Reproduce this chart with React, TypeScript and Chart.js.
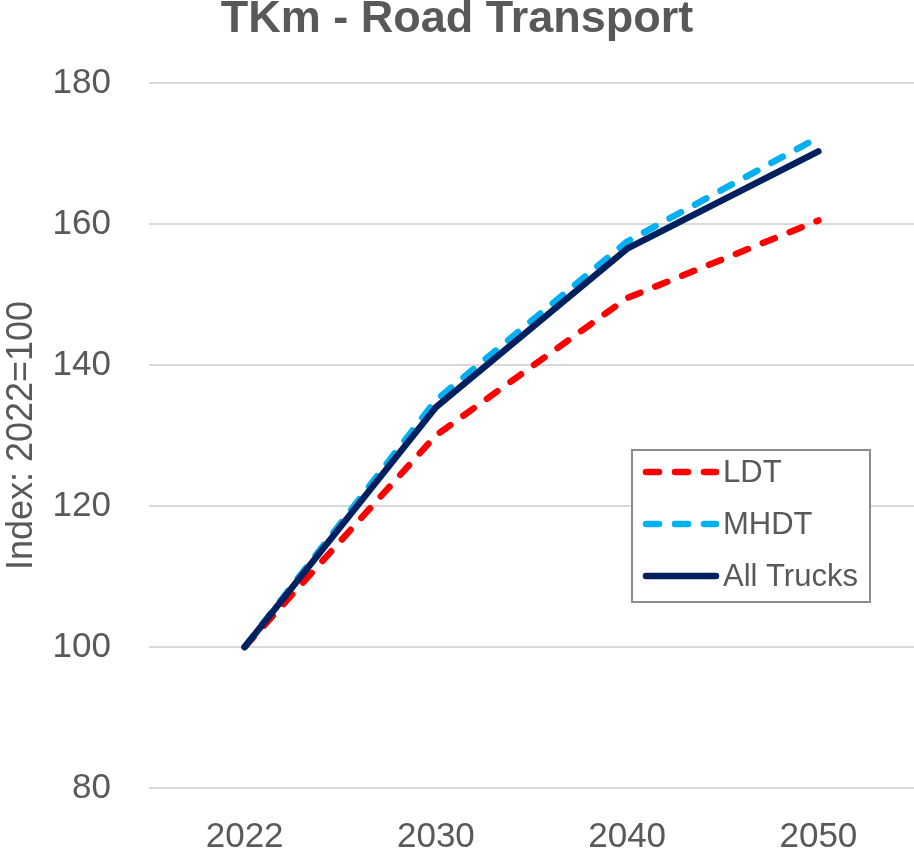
import React, { useEffect, useRef } from "react";
import { Chart, registerables } from "chart.js";

Chart.register(...registerables);

const TITLE = "TKm - Road Transport";
const Y_TITLE = "Index: 2022=100";
const YEARS = ["2022", "2030", "2040", "2050"];
const LDT = [100, 130, 149.5, 160.5];
const MHDT = [100, 135, 157.5, 172.3];
const ALL_TRUCKS = [100, 134, 156.5, 170.3];
const Y_MIN = 80;
const Y_MAX = 180;
const Y_STEP = 20;

const FONT = "'Liberation Sans', Arial, sans-serif";
const TEXT = "#595959";

const titlePlugin = {
  id: "topTitle",
  afterDraw(chart: any) {
    const ctx = chart.ctx;
    ctx.save();
    ctx.font = `bold 45px ${FONT}`;
    ctx.fillStyle = TEXT;
    ctx.textAlign = "center";
    ctx.textBaseline = "alphabetic";
    ctx.fillText(TITLE, chart.width / 2, 32);
    ctx.restore();
  },
};

const legendPlugin = {
  id: "boxLegend",
  afterDraw(chart: any) {
    const ctx = chart.ctx;
    const x = 632, y = 450, w = 238, h = 152;
    ctx.save();
    ctx.fillStyle = "#ffffff";
    ctx.fillRect(x, y, w, h);
    ctx.strokeStyle = "#8c8c8c";
    ctx.lineWidth = 2;
    ctx.strokeRect(x, y, w, h);
    chart.data.datasets.forEach((ds: any, k: number) => {
      const cy = y + 22 + k * 52;
      ctx.beginPath();
      ctx.strokeStyle = ds.borderColor;
      ctx.lineWidth = ds.borderWidth;
      ctx.lineCap = "round";
      ctx.setLineDash(ds.borderDash || []);
      ctx.moveTo(646, cy);
      ctx.lineTo(716, cy);
      ctx.stroke();
      ctx.setLineDash([]);
      ctx.fillStyle = TEXT;
      ctx.font = `31px ${FONT}`;
      ctx.textAlign = "left";
      ctx.textBaseline = "middle";
      ctx.fillText(ds.label, 723, cy + 1);
    });
    ctx.restore();
  },
};

export default function App() {
  const ref = useRef<HTMLCanvasElement | null>(null);
  useEffect(() => {
    if (!ref.current) return;
    const common = {
      borderWidth: 6.5,
      borderCapStyle: "round",
      borderJoinStyle: "round",
      pointRadius: 0,
      tension: 0,
    };
    const chart = new Chart(ref.current, {
      type: "line",
      data: {
        labels: YEARS,
        datasets: [
          { ...common, label: "LDT", data: LDT, borderColor: "#FF0000", borderDash: [13, 16], order: 2 },
          { ...common, label: "MHDT", data: MHDT, borderColor: "#00B0F0", borderDash: [13, 16], order: 1 },
          { ...common, label: "All Trucks", data: ALL_TRUCKS, borderColor: "#002060", order: 0 },
        ],
      },
      options: {
        responsive: false,
        animation: false,
        layout: { padding: { top: 83, left: 0, right: 0, bottom: 0 } },
        plugins: {
          legend: { display: false },
          title: { display: false },
          tooltip: { enabled: false },
        },
        scales: {
          x: {
            type: "category",
            offset: true,
            grid: { display: false, drawTicks: false },
            border: { display: false },
            ticks: {
              color: TEXT,
              font: { family: FONT, size: 35 },
              padding: 28,
            },
            afterFit: (s: any) => {
              s.height = 66;
            },
          },
          y: {
            min: Y_MIN,
            max: Y_MAX,
            grid: { color: "#d9d9d9", lineWidth: 2, drawTicks: false },
            border: { display: false },
            ticks: {
              stepSize: Y_STEP,
              color: TEXT,
              font: { family: FONT, size: 35 },
              padding: 38,
            },
            title: {
              display: true,
              text: Y_TITLE,
              color: TEXT,
              font: { family: FONT, size: 36 },
              padding: 0,
            },
            afterFit: (s: any) => {
              s.width = 149;
            },
          },
        },
      },
      plugins: [titlePlugin, legendPlugin],
    } as any);
    return () => chart.destroy();
  }, []);
  return (
    <div style={{ position: "absolute", left: 0, top: 0, width: 914, height: 854, background: "#fff" }}>
      <canvas ref={ref} width={914} height={854} style={{ width: 914, height: 854, display: "block" }} />
    </div>
  );
}
